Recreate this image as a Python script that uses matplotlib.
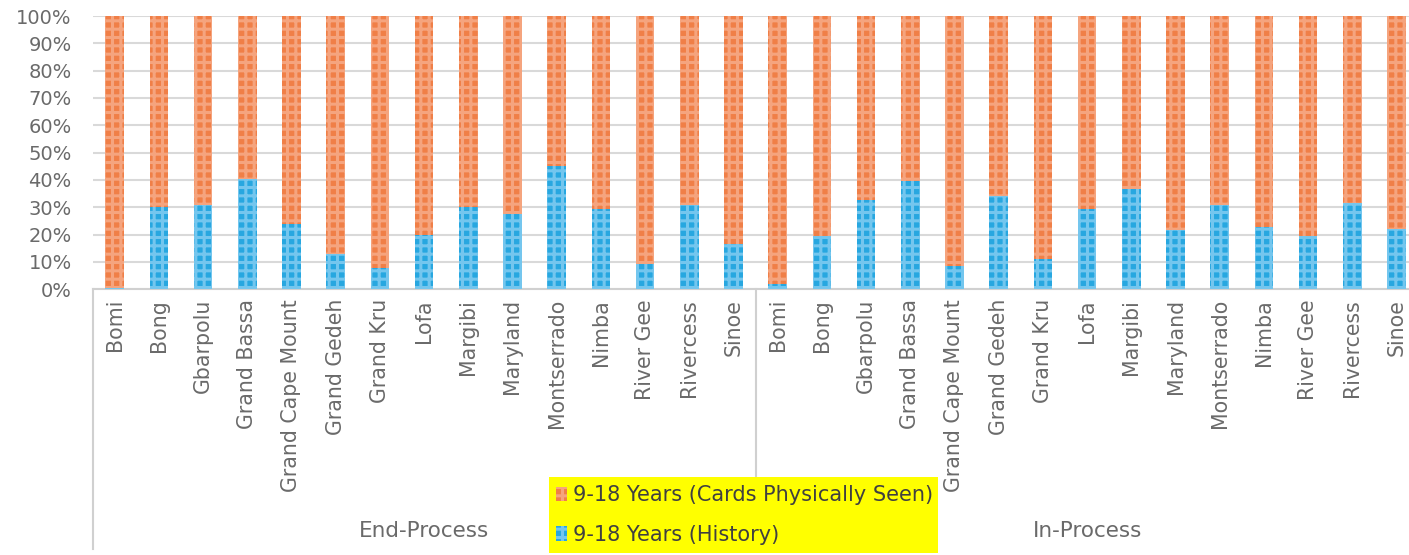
import matplotlib
matplotlib.use("Agg")
import matplotlib.pyplot as plt
from matplotlib.patches import Rectangle, Patch
import numpy as np

counties = ["Bomi", "Bong", "Gbarpolu", "Grand Bassa", "Grand Cape Mount", "Grand Gedeh",
            "Grand Kru", "Lofa", "Margibi", "Maryland", "Montserrado", "Nimba",
            "River Gee", "Rivercess", "Sinoe"]
groups = ["End-Process", "In-Process"]

history_end = [0.5, 30.0, 31.0, 40.5, 23.8, 12.9, 7.9, 19.9, 30.2, 27.4, 45.0, 29.3, 9.1, 31.0, 16.6]
history_in = [2.0, 19.6, 32.6, 39.6, 8.6, 34.0, 11.0, 29.5, 36.7, 21.7, 31.0, 22.8, 19.6, 31.6, 22.2]

series_history = "9-18 Years (History)"
series_seen = "9-18 Years (Cards Physically Seen)"
y_ticks = [0, 10, 20, 30, 40, 50, 60, 70, 80, 90, 100]

labels = counties + counties
hist = np.array(history_end + history_in)
seen = 100 - hist

W, H = 1409, 555
plt.rcParams['hatch.linewidth'] = 2.2
fig = plt.figure(figsize=(W / 100, H / 100), dpi=100)
left_px, right_px, top_px, bot_px = 92.6, 1409, 16, 289.3
step = 44.2
ax = fig.add_axes([left_px / W, (H - bot_px) / H, (right_px - left_px) / W, (bot_px - top_px) / H])

x = np.arange(len(labels))
orange = "#F07F47"
orange_l = "#F5A47E"
blue = "#27A7E0"
blue_l = "#74C6EE"
bw = 0.42
ax.bar(x, hist, width=bw, color=blue, edgecolor=blue_l, linewidth=0, hatch="++", zorder=3)
ax.bar(x, seen, bottom=hist, width=bw, color=orange, edgecolor=orange_l, linewidth=0, hatch="++", zorder=3)

ax.set_xlim(-0.5, -0.5 + (right_px - left_px) / step)
ax.set_ylim(0, 100)
ax.set_yticks(y_ticks)
ax.set_yticklabels([f"{t}%" for t in y_ticks])
ax.yaxis.grid(True, color="#D9D9D9", linewidth=1.5, zorder=0)
ax.set_axisbelow(True)
for s in ["top", "right", "left"]:
    ax.spines[s].set_visible(False)
ax.spines["bottom"].set_color("#D0D0D0")
ax.spines["bottom"].set_linewidth(1.5)

tick_col = "#6A6A6A"
ax.tick_params(axis="y", length=0, pad=15, labelsize=14, labelcolor=tick_col)
ax.tick_params(axis="x", length=0, pad=7, labelsize=14.8, labelcolor=tick_col)
ax.set_xticks(x)
ax.set_xticklabels(labels, rotation=90, va="top", ha="center")

# group separators
n = len(counties)
trans = ax.get_xaxis_transform()
for xv in [-0.5, n - 0.5]:
    ax.plot([xv, xv], [0, -0.95], transform=trans, color="#D0D0D0", linewidth=1.5, clip_on=False, zorder=1)
for i, g in enumerate(groups):
    cx = i * n + (n - 1) / 2
    ax.text(cx, -0.885, g, transform=trans, ha="center", va="center", fontsize=15.5,
            color=tick_col)

# legend box
fig.patches.append(Rectangle((549 / W, (H - 553) / H), (938 - 549) / W, (553 - 477) / H,
                             transform=fig.transFigure, facecolor="#FFFF00", edgecolor="none", zorder=5))
handles = [Patch(facecolor=orange, edgecolor=orange_l, hatch="++", linewidth=0, label=series_seen),
           Patch(facecolor=blue, edgecolor=blue_l, hatch="++", linewidth=0, label=series_history)]
leg = fig.legend(handles=handles, loc="center left", bbox_to_anchor=(546 / W, (H - 515) / H),
                 frameon=False, fontsize=15, handlelength=0.5, handleheight=0.7,
                 handletextpad=0.3, labelspacing=0.95, borderpad=0)
leg.set_zorder(6)
for t in leg.get_texts():
    t.set_color("#404040")

fig.savefig("out.png", dpi=100)
